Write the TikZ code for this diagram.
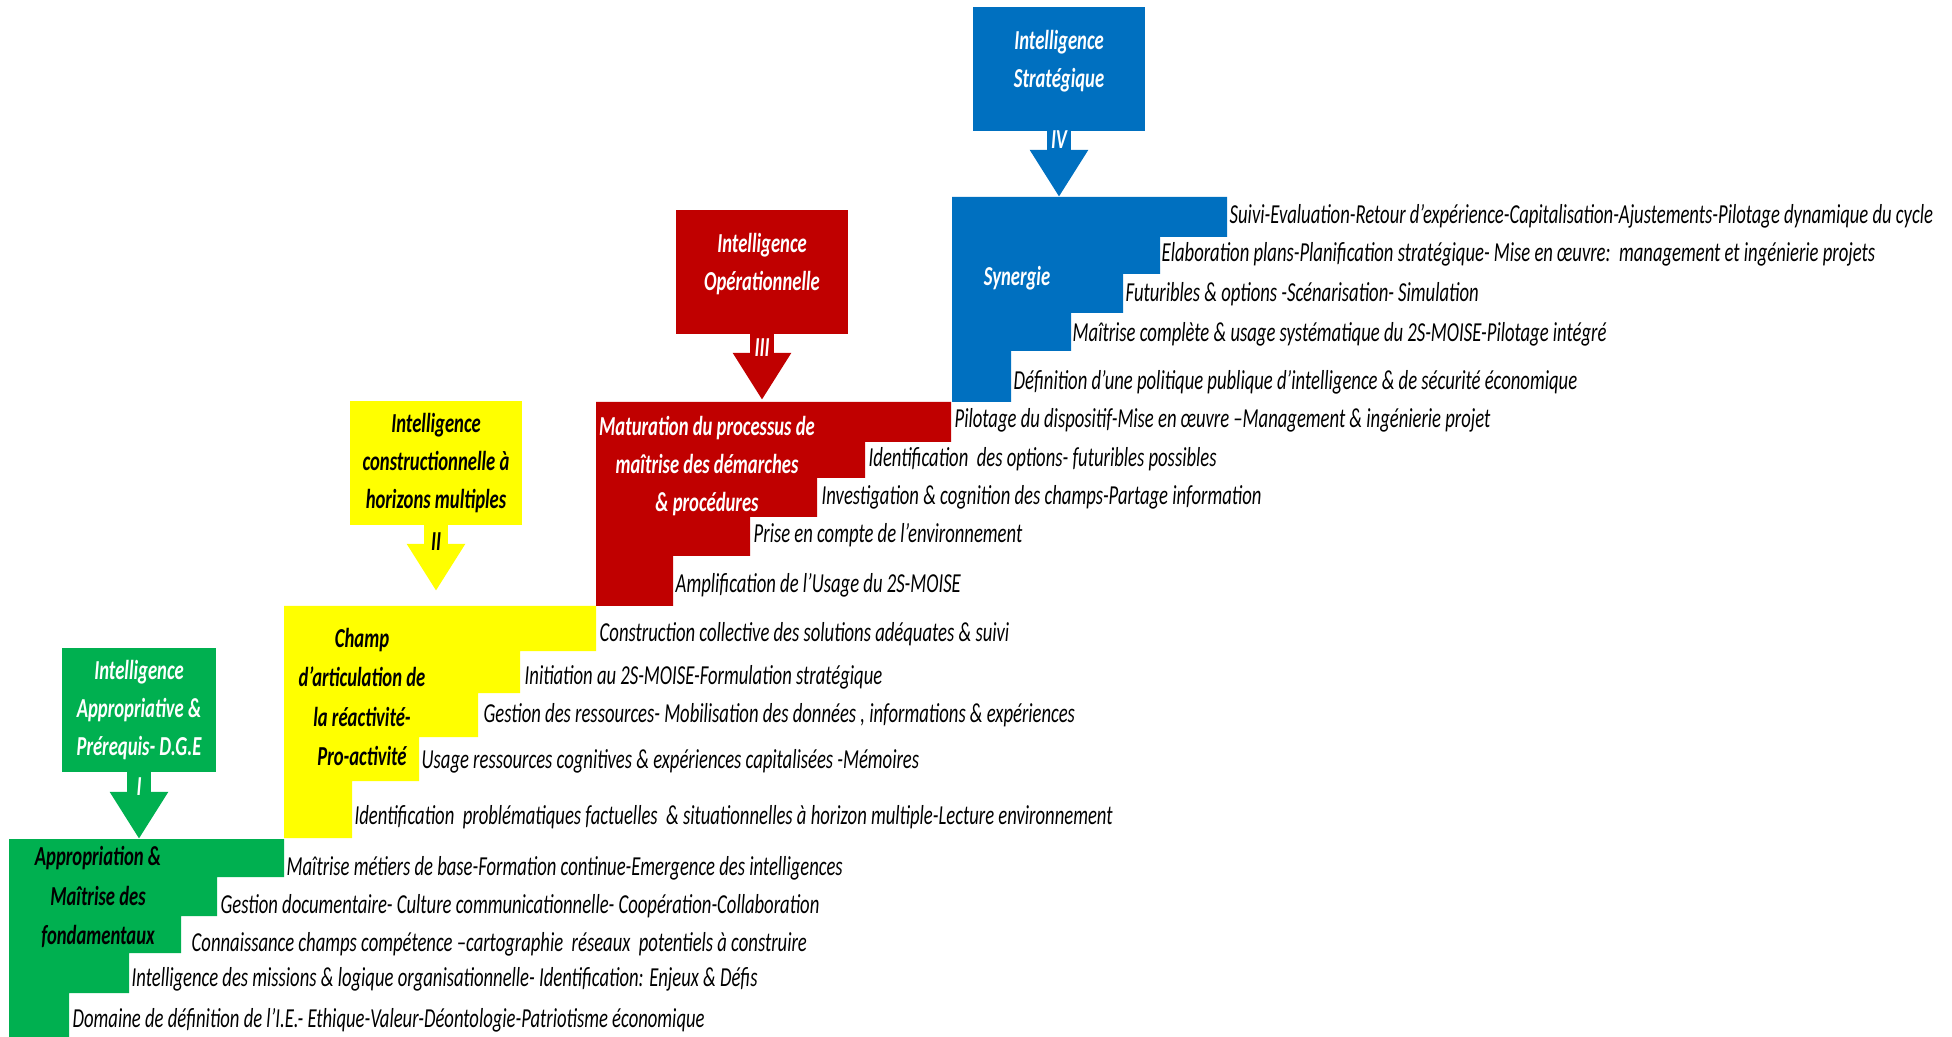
\documentclass[tikz,border=0pt]{standalone}
\usepackage{fontspec}
\setmainfont{Carlito}[FakeStretch=0.68]
\usepackage{tikz}
\usetikzlibrary{arrows.meta,positioning}
\definecolor{StepGreen}{HTML}{00B050}
\definecolor{StepYellow}{HTML}{FFFF00}
\definecolor{StepRed}{HTML}{C00000}
\definecolor{StepBlue}{HTML}{0070C0}
\newcommand{\stairfont}{\fontsize{7.8pt}{10.9pt}\selectfont}
\tikzset{
  levelbox/.style={minimum width=1.71cm,minimum height=1.23cm,align=center,inner sep=0pt,font=\stairfont\bfseries\itshape},
  stairlabel/.style={align=center,inner sep=0pt,font=\fontsize{7.8pt}{11.2pt}\selectfont\bfseries\itshape},
  steptext/.style={anchor=west,inner sep=0pt,text height=.19cm,text depth=.06cm,font=\stairfont\itshape},
  levelarrow/.style={line width=.245cm,-{Triangle[length=.47cm,width=.55cm]}},
  numeral/.style={inner sep=0pt,font=\stairfont\bfseries\itshape}
}
\begin{document}
\begin{tikzpicture}[x=.01cm,y=-.01cm]
  \useasboundingbox (0,0) rectangle (1952,1037);

  \fill[StepGreen] (9,839) -- (284,839) -- (284,877) -- (217,877) -- (217,916) -- (181,916) -- (181,953) -- (129,953) -- (129,993) -- (69,993) -- (69,1037) -- (9,1037) -- cycle;
  \fill[StepYellow] (284,606) -- (596,606) -- (596,651) -- (520,651) -- (520,693) -- (478,693) -- (478,737) -- (419,737) -- (419,781) -- (352,781) -- (352,838) -- (284,838) -- cycle;
  \fill[StepRed] (596,402) -- (951,402) -- (951,442) -- (865,442) -- (865,478) -- (817,478) -- (817,517) -- (750,517) -- (750,556) -- (673,556) -- (673,606) -- (596,606) -- cycle;
  \fill[StepBlue] (952,197) -- (1227,197) -- (1227,237) -- (1160,237) -- (1160,274) -- (1123,274) -- (1123,313) -- (1071,313) -- (1071,351) -- (1011,351) -- (1011,402) -- (952,402) -- cycle;
  \coordinate (tipI) at (139,839);
  \coordinate (tipII) at (436,591);
  \coordinate (tipIII) at (762,400);
  \coordinate (tipIV) at (1059,197);

  \node[levelbox,fill=StepGreen,text=white,minimum width=1.54cm] (appr) at (139,710) {Intelligence\\Appropriative \&\\Prérequis- D.G.E};
  \node[levelbox,fill=StepYellow,minimum width=1.72cm] (constr) at (436,463) {Intelligence\\constructionnelle à\\horizons multiples};
  \node[levelbox,fill=StepRed,text=white,text depth=.2cm] (oper) at (762,272) {Intelligence\\Opérationnelle};
  \node[levelbox,fill=StepBlue,text=white,text depth=.2cm] (strat) at (1059,69) {Intelligence\\Stratégique};
  \draw[levelarrow,draw=StepGreen] (appr.south) -- node[numeral,pos=.22,text=white]{I} (tipI);
  \draw[levelarrow,draw=StepYellow] (constr.south) -- node[numeral,pos=.25]{II} (tipII);
  \draw[levelarrow,draw=StepRed] (oper.south) -- node[numeral,pos=.2,text=white]{III} (tipIII);
  \draw[levelarrow,draw=StepBlue] (strat.south) -- node[numeral,pos=.13,text=white]{IV} (tipIV);

  \node[stairlabel] (fond) at (98,897) {Appropriation \&\\Maîtrise des\\fondamentaux};
  \node[stairlabel] (champ) at (362,697) {Champ\\d’articulation de\\la réactivité-\\Pro-activité};
  \node[stairlabel,text=white,font=\stairfont\bfseries\itshape] (matur) at (707,466) {Maturation du processus de\\maîtrise des démarches\\\& procédures};
  \node[stairlabel,text=white] (syn) at (1017,278) {Synergie};

  \node[steptext] (g1) at (286,869) {Maîtrise métiers de base-Formation continue-Emergence des intelligences};
  \node[steptext] (g2) at (220,907) {Gestion documentaire- Culture communicationnelle- Coopération-Collaboration};
  \node[steptext] (g3) at (191,945) {Connaissance champs compétence –cartographie\ \ réseaux\ \ potentiels à construire};
  \node[steptext] (g4) at (131,980) {Intelligence des missions \& logique organisationnelle- Identification: Enjeux \& Défis};
  \node[steptext] (g5) at (72,1021) {Domaine de définition de l’I.E.- Ethique-Valeur-Déontologie-Patriotisme économique};

  \node[steptext] (y1) at (599,635) {Construction collective des solutions adéquates \& suivi};
  \node[steptext] (y2) at (524,678) {Initiation au 2S-MOISE-Formulation stratégique};
  \node[steptext] (y3) at (483,716) {Gestion des ressources- Mobilisation des données , informations \& expériences};
  \node[steptext] (y4) at (421,762) {Usage ressources cognitives \& expériences capitalisées -Mémoires};
  \node[steptext] (y5) at (354,818) {Identification\ \ problématiques factuelles\ \ \& situationnelles à horizon multiple-Lecture environnement};

  \node[steptext] (r1) at (954,421) {Pilotage du dispositif-Mise en œuvre –Management \& ingénierie projet};
  \node[steptext] (r2) at (868,460) {Identification\ \ des options- futuribles possibles};
  \node[steptext] (r3) at (821,498) {Investigation \& cognition des champs-Partage information};
  \node[steptext] (r4) at (753,536) {Prise en compte de l’environnement};
  \node[steptext] (r5) at (675,586) {Amplification de l’Usage du 2S-MOISE};

  \node[steptext] (b1) at (1229,217) {Suivi-Evaluation-Retour d’expérience-Capitalisation-Ajustements-Pilotage dynamique du cycle};
  \node[steptext] (b2) at (1161,255) {Elaboration plans-Planification stratégique- Mise en œuvre:\ \ management et ingénierie projets};
  \node[steptext] (b3) at (1125,295) {Futuribles \& options -Scénarisation- Simulation};
  \node[steptext] (b4) at (1072,335) {Maîtrise complète \& usage systématique du 2S-MOISE-Pilotage intégré};
  \node[steptext] (b5) at (1013,383) {Définition d’une politique publique d’intelligence \& de sécurité économique};
\end{tikzpicture}
\end{document}
